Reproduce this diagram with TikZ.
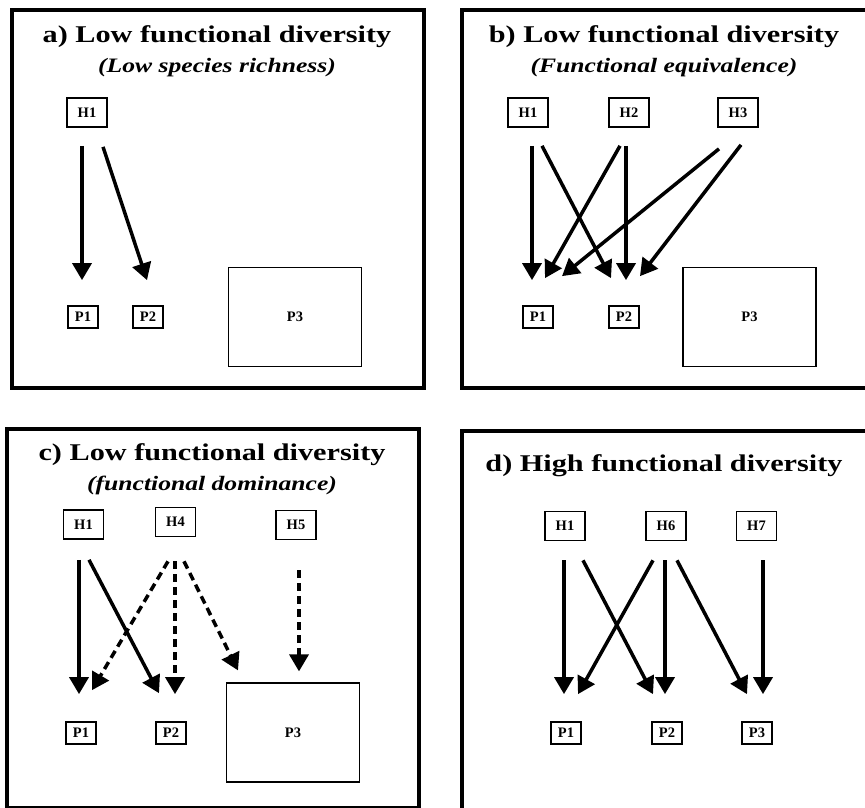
\documentclass[tikz,border=0pt]{standalone}
\usepackage{fontspec}
\setmainfont{Liberation Serif}
\newfontfamily\widefont[FakeStretch=1.26]{Liberation Serif}
\newfontfamily\subfont[FakeStretch=1.25]{Liberation Serif}
\usetikzlibrary{arrows.meta}

\tikzset{
        panel/.style={line width=3.5pt},
        hbox/.style={draw, line width=1.7pt, minimum width=40pt, minimum height=29pt,
                inner sep=0pt, font=\fontsize{14.5}{15}\selectfont\bfseries},
        pbox/.style={hbox, minimum width=30pt, minimum height=22pt},
        bigbox/.style={hbox, line width=1.2pt, minimum width=133pt, minimum height=99pt},
        title/.style={anchor=base, font=\widefont\fontsize{24}{26}\selectfont\bfseries},
        subtitle/.style={anchor=base, font=\subfont\fontsize{20.5}{22}\selectfont\bfseries\itshape},
        arr/.style={line width=3.5pt, -{Triangle[length=17pt,width=19pt]}},
        darr/.style={arr, dash pattern=on 8pt off 5pt}
}

\begin{document}
\begin{tikzpicture}[x=1pt, y=-1pt]
        \useasboundingbox (0,0) rectangle (865,808);
        \clip (0,0) rectangle (865,808);
        \fill[white] (0,0) rectangle (865,808);

        % a)
        \draw[panel] (12,10) rectangle (424,388);
        \node[title] (aT) at (217,43) {a) Low functional diversity};
        \node[subtitle] (aS) at (217,73) {(Low species richness)};
        \node[hbox] (aH1) at (87,112.5) {H1};
        \node[pbox] (aP1) at (83,317) {P1};
        \node[pbox] (aP2) at (148,317) {P2};
        \node[bigbox] (aP3) at (295,317) {P3};
        \draw[arr] ([shift={(-5,18)}]aH1.south) -- ([shift={(-1,-25)}]aP1.north);
        \draw[arr] ([shift={(16,19)}]aH1.south) -- ([shift={(-1,-25)}]aP2.north);

        % b)
        \draw[panel] (462,10) rectangle (880,388);
        \node[title] (bT) at (664,43) {b) Low functional diversity};
        \node[subtitle] (bS) at (664,73) {(Functional equivalence)};
        \node[hbox] (bH1) at (528,112.5) {H1};
        \node[hbox] (bH2) at (629,112.5) {H2};
        \node[hbox] (bH3) at (738,112.5) {H3};
        \node[pbox] (bP1) at (538,317) {P1};
        \node[pbox] (bP2) at (624,317) {P2};
        \node[bigbox] (bP3) at (749.5,317) {P3};
        \draw[arr] ([shift={(4,18)}]bH1.south) -- ([shift={(-6,-25)}]bP1.north);
        \draw[arr] ([shift={(14,18)}]bH1.south) -- ([shift={(-13,-27)}]bP2.north);
        \draw[arr] ([shift={(-9,18)}]bH2.south) -- ([shift={(7,-27)}]bP1.north);
        \draw[arr] ([shift={(-3,18)}]bH2.south) -- ([shift={(2,-25)}]bP2.north);
        \draw[arr] ([shift={(-19,21)}]bH3.south) -- ([shift={(24,-29)}]bP1.north);
        \draw[arr] ([shift={(3,17)}]bH3.south) -- ([shift={(16,-29)}]bP2.north);

        % c)
        \draw[panel] (7,429) rectangle (419,808);
        \node[title] (cT) at (212,460) {c) Low functional diversity};
        \node[subtitle] (cS) at (212,490) {(functional dominance)};
        \node[hbox] (cH1) at (83.5,524.5) {H1};
        \node[hbox] (cH4) at (175.5,522) {H4};
        \node[hbox] (cH5) at (296,525) {H5};
        \node[pbox] (cP1) at (81,733) {P1};
        \node[pbox] (cP2) at (171,733) {P2};
        \node[bigbox] (cP3) at (293,732.5) {P3};
        \draw[arr] ([shift={(-4.5,20)}]cH1.south) -- ([shift={(-2,-27)}]cP1.north);
        \draw[arr] ([shift={(5.5,20)}]cH1.south) -- ([shift={(-12,-28)}]cP2.north);
        \draw[darr] ([shift={(-7.5,24)}]cH4.south) -- ([shift={(11,-31)}]cP1.north);
        \draw[darr] ([shift={(-0.5,24)}]cH4.south) -- ([shift={(4,-27)}]cP2.north);
        \draw[darr] ([shift={(8.5,24)}]cH4.south) -- ([shift={(-55,-12)}]cP3.north);
        \draw[darr] ([shift={(3,30)}]cH5.south) -- ([shift={(6,-11)}]cP3.north);

        % d)
        \draw[panel] (462,431) rectangle (880,830);
        \node[title] (dT) at (664,471) {d) High functional diversity};
        \node[hbox] (dH1) at (565,526) {H1};
        \node[hbox] (dH6) at (666,526) {H6};
        \node[hbox] (dH7) at (756.5,526) {H7};
        \node[pbox] (dP1) at (566,733) {P1};
        \node[pbox] (dP2) at (667,733) {P2};
        \node[pbox] (dP3) at (757,733) {P3};
        \draw[arr] ([shift={(-1,19)}]dH1.south) -- ([shift={(-2,-27)}]dP1.north);
        \draw[arr] ([shift={(18,19)}]dH1.south) -- ([shift={(-14,-27)}]dP2.north);
        \draw[arr] ([shift={(-13,19)}]dH6.south) -- ([shift={(12,-27)}]dP1.north);
        \draw[arr] ([shift={(-1,19)}]dH6.south) -- ([shift={(-2,-27)}]dP2.north);
        \draw[arr] ([shift={(11,19)}]dH6.south) -- ([shift={(-10,-27)}]dP3.north);
        \draw[arr] ([shift={(6.5,19)}]dH7.south) -- ([shift={(6,-27)}]dP3.north);
\end{tikzpicture}
\end{document}
